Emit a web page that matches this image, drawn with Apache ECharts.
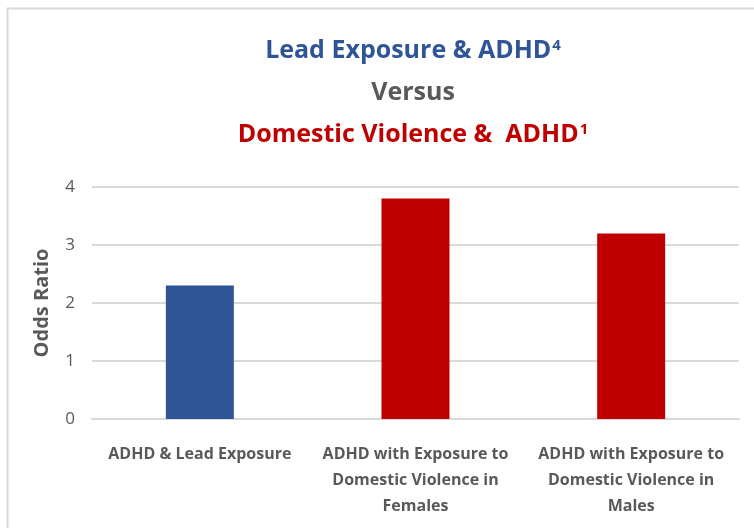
<!DOCTYPE html>
<html>
<head>
<meta charset="utf-8">
<script src="https://cdn.jsdelivr.net/npm/echarts@6/dist/echarts.min.js"></script>
<style>
  html, body { margin: 0; padding: 0; background: #fff; }
  #chart { width: 754px; height: 528px; }
</style>
</head>
<body>
<div id="chart"></div>
<script>
// data
const categories = [
  'ADHD & Lead Exposure',
  'ADHD with Exposure to\nDomestic Violence in\nFemales',
  'ADHD with Exposure to\nDomestic Violence in\nMales'
]
const oddsRatios = [2.3, 3.8, 3.2]
const barColors = ['#2F5597', '#C00000', '#C00000']
const yTicks = { min: 0, max: 4, interval: 1 }

const font = '"Open Sans", sans-serif'
const grey = '#595959'

const chart = echarts.init(document.getElementById('chart'))

// title lines, with a small raised footnote number
function titleLine(main, sup, color, top) {
  return {
    text: sup ? '{m|' + main + '}{s|' + sup + '}' : '{m|' + main + '}',
    left: 408,
    textAlign: 'center',
    top: top,
    textStyle: {
      rich: {
        m: { fontFamily: font, fontSize: 25, fontWeight: 'bold', color: color },
        s: { fontFamily: font, fontSize: 15, fontWeight: 'bold', color: color, padding: [0, 0, 11, 1] }
      }
    }
  }
}

const option = {
  animation: false,
  textStyle: { fontFamily: font },
  graphic: [
    {
      type: 'rect',
      shape: { x: 7.5, y: 8.5, width: 800, height: 600 },
      style: { fill: 'none', stroke: '#D9D9D9', lineWidth: 2 },
      silent: true
    }
  ],
  title: [
    titleLine('Lead Exposure & ADHD', '4', '#2F5597', 33),
    titleLine('Versus', '', grey, 75),
    titleLine('Domestic Violence &  ADHD', '1', '#C00000', 117)
  ],
  grid: { left: 92, right: 15, top: 187, bottom: 109 },
  xAxis: {
    type: 'category',
    data: categories,
    axisLine: { show: true, lineStyle: { color: '#D9D9D9', width: 2 } },
    axisTick: { show: false },
    axisLabel: {
      interval: 0,
      margin: 22,
      color: grey,
      fontFamily: font,
      fontSize: 16,
      fontWeight: 'bold',
      lineHeight: 26
    }
  },
  yAxis: {
    type: 'value',
    min: yTicks.min,
    max: yTicks.max,
    interval: yTicks.interval,
    name: 'Odds Ratio',
    nameLocation: 'middle',
    nameGap: 40,
    nameTextStyle: { color: grey, fontFamily: font, fontSize: 20, fontWeight: 'bold' },
    axisLine: { show: false },
    axisTick: { show: false },
    axisLabel: { color: grey, fontFamily: font, fontSize: 17, margin: 17 },
    splitLine: { lineStyle: { color: '#D9D9D9', width: 2 } }
  },
  series: [
    {
      type: 'bar',
      barWidth: 68,
      data: oddsRatios.map((v, i) => ({ value: v, itemStyle: { color: barColors[i] } }))
    }
  ]
}

chart.setOption(option)
</script>
</body>
</html>
